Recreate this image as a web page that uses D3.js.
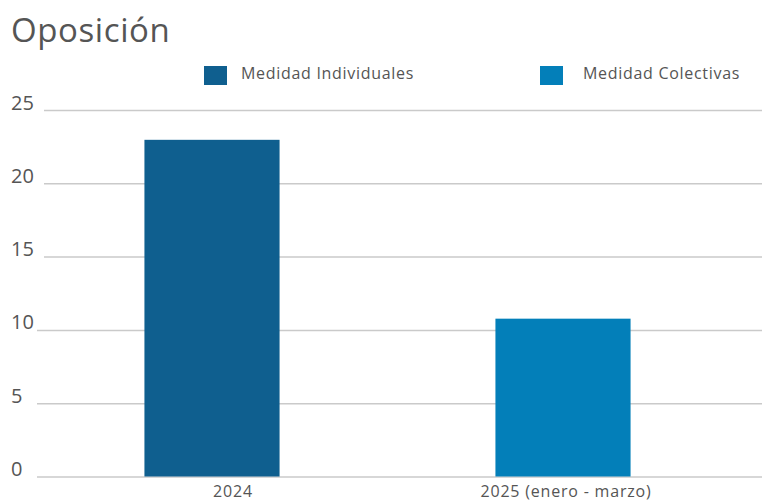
<!DOCTYPE html>
<html>
<head>
<meta charset="utf-8">
<script src="https://cdn.jsdelivr.net/npm/d3@7"></script>
<style>
  html, body { margin: 0; padding: 0; background: #fff; }
  svg { display: block; font-family: "Open Sans", "Noto Sans", sans-serif; }
</style>
</head>
<body>
<svg id="chart" width="762" height="502"></svg>
<script>
// ---- data ----
const title = "Oposición";
const categories = ["2024", "2025 (enero - marzo)"];
const seriesNames = ["Medidad Individuales", "Medidad Colectivas"];
const values = [23, 10.8];           // one bar per category
const barSeries = [0, 1];            // series index of each bar
const yTicks = [0, 5, 10, 15, 20, 25];

// ---- style ----
const colors = ["#0f5f8f", "#037fb9"];
const plot = { left: 37, right: 762, top: 110.5, bottom: 477 };
const labelDx = [21, 3];
const legendSwatchX = [204, 540];
const legendTextX = [241, 583];

const svg = d3.select("#chart");

const y = d3.scaleLinear().domain([0, 25]).range([plot.bottom, plot.top]);
const x = d3.scaleBand().domain(categories).range([36.5, 738.5]).padding(0);
const barW = x.bandwidth() * 0.385;

// title
svg.append("text")
  .attr("x", 11).attr("y", 42)
  .attr("font-size", 33).attr("letter-spacing", 0.6).attr("fill", "#555")
  .text(title);

// legend
seriesNames.forEach((name, i) => {
  svg.append("rect")
    .attr("x", legendSwatchX[i]).attr("y", 66)
    .attr("width", 23).attr("height", 19)
    .attr("fill", colors[i]);
  svg.append("text")
    .attr("x", legendTextX[i]).attr("y", 79)
    .attr("font-size", 16).attr("letter-spacing", 0.7).attr("fill", "#555")
    .text(name);
});

// y axis ticks + grid
const g = svg.append("g");
yTicks.forEach(t => {
  g.append("line")
    .attr("x1", t >= 15 ? 44 : plot.left).attr("x2", plot.right)
    .attr("y1", y(t)).attr("y2", y(t))
    .attr("stroke", "#cacaca").attr("stroke-width", 1.5);
  g.append("text")
    .attr("x", 11).attr("y", y(t) - 1)
    .attr("font-size", 20).attr("fill", "#555")
    .text(t);
});

// bars
svg.append("g").selectAll("rect")
  .data(categories)
  .join("rect")
  .attr("x", d => x(d) + x.bandwidth() / 2 - barW / 2)
  .attr("width", barW)
  .attr("y", (d, i) => y(values[i]))
  .attr("height", (d, i) => y(0) - y(values[i]) - 0.5)
  .attr("fill", (d, i) => colors[barSeries[i]]);

// category labels
svg.append("g").selectAll("text")
  .data(categories)
  .join("text")
  .attr("x", (d, i) => x(d) + x.bandwidth() / 2 + labelDx[i])
  .attr("y", 497)
  .attr("text-anchor", "middle")
  .attr("font-size", 16).attr("letter-spacing", 0.8).attr("fill", "#555")
  .text(d => d);
</script>
</body>
</html>
